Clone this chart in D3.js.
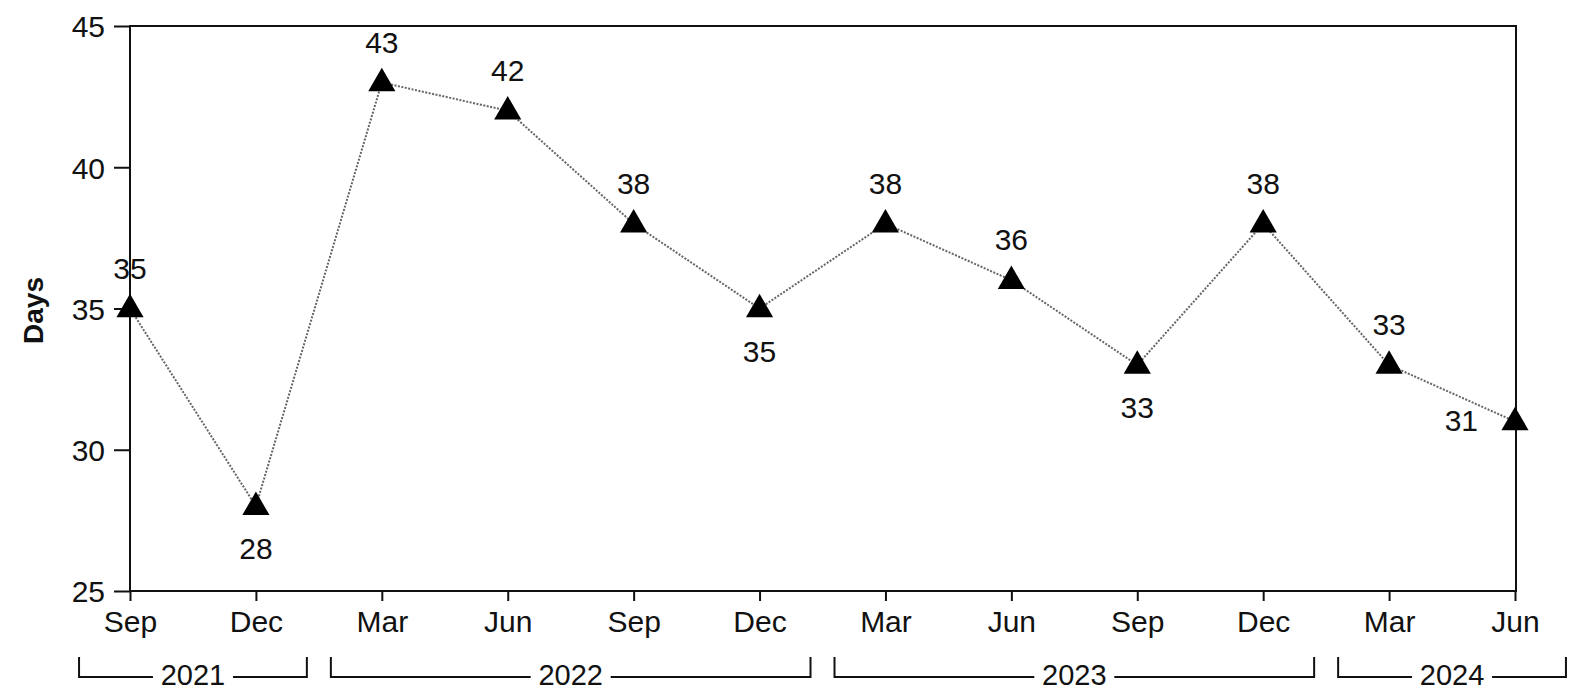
<!DOCTYPE html>
<html>
<head>
<meta charset="utf-8">
<script src="https://cdn.jsdelivr.net/npm/d3@7"></script>
<style>
  body { margin: 0; background: #fff; }
  text { font-family: "Liberation Sans", Arial, sans-serif; fill: #111; }
</style>
</head>
<body>
<div id="chart"></div>
<script>
'use strict';
(function(){

	// data
	var months = ['Sep', 'Dec', 'Mar', 'Jun', 'Sep', 'Dec', 'Mar', 'Jun', 'Sep', 'Dec', 'Mar', 'Jun'];
	var years = [2021, 2021, 2022, 2022, 2022, 2022, 2023, 2023, 2023, 2023, 2024, 2024];
	var days = [35, 28, 43, 42, 38, 35, 38, 36, 33, 38, 33, 31];
	var labelSide = ['above', 'below', 'above', 'above', 'above', 'below', 'above', 'above', 'below', 'above', 'above', 'left'];
	var yTicks = [25, 30, 35, 40, 45];
	var yTitle = 'Days';

	var width = 1571, height = 690;
	var left = 130, right = 1516, top = 26, bottom = 591;

	var svg = d3.select('#chart')
		.append('svg')
		.attr('width', width)
		.attr('height', height);

	var keys = months.map(function (m, i) { return m + ' ' + years[i]; });

	var x = d3.scalePoint()
		.domain(keys)
		.range([left, right - 1]);

	var y = d3.scaleLinear()
		.domain([25, 45])
		.range([bottom, top]);

	var step = x.step();

	// frame
	svg.append('rect')
		.attr('x', left)
		.attr('y', top)
		.attr('width', right - left)
		.attr('height', bottom - top)
		.attr('fill', 'none')
		.attr('stroke', '#111')
		.attr('stroke-width', 2);

	// y axis
	var yAxis = svg.append('g')
		.attr('transform', 'translate(' + left + ',0)')
		.call(d3.axisLeft(y).tickValues(yTicks).tickSize(16).tickPadding(9));
	yAxis.select('.domain').remove();
	yAxis.selectAll('line').attr('stroke', '#111').attr('stroke-width', 2);
	yAxis.selectAll('text')
		.attr('font-size', 30)
		.attr('font-family', '"Liberation Sans", Arial, sans-serif')
		.attr('fill', '#111')
		.attr('dy', '0.36em');

	// x axis
	var xAxis = svg.append('g')
		.attr('transform', 'translate(0,' + bottom + ')')
		.call(d3.axisBottom(x).tickSize(10).tickPadding(10)
			.tickFormat(function (d, i) { return months[i]; }));
	xAxis.select('.domain').remove();
	xAxis.selectAll('line').attr('stroke', '#111').attr('stroke-width', 2);
	xAxis.selectAll('text')
		.attr('font-size', 30)
		.attr('font-family', '"Liberation Sans", Arial, sans-serif')
		.attr('fill', '#111');

	// year brackets
	var groups = [];
	years.forEach(function (yr, i) {
		var g = groups[groups.length - 1];
		if (!g || g.year !== yr) {
			groups.push({ year: yr, first: keys[i], last: keys[i] });
		} else {
			g.last = keys[i];
		}
	});

	var bracketY = 677, bracketTop = 657, gap = 12;
	var brackets = svg.append('g').selectAll('g')
		.data(groups)
		.enter()
		.append('g');

	brackets.append('path')
		.attr('d', function (d) {
			var x0 = x(d.first) - step / 2 + gap;
			var x1 = x(d.last) + step / 2 - gap;
			return 'M' + x0 + ',' + bracketTop + 'V' + bracketY + 'H' + x1 + 'V' + bracketTop;
		})
		.attr('fill', 'none')
		.attr('stroke', '#111')
		.attr('stroke-width', 2);

	brackets.append('rect')
		.attr('x', function (d) { return (x(d.first) + x(d.last)) / 2 - 40; })
		.attr('y', bracketY - 6)
		.attr('width', 80)
		.attr('height', 12)
		.attr('fill', '#fff');

	brackets.append('text')
		.attr('x', function (d) { return (x(d.first) + x(d.last)) / 2; })
		.attr('y', bracketY + 8)
		.attr('text-anchor', 'middle')
		.attr('font-size', 29)
		.text(function (d) { return d.year; });

	// y title
	svg.append('text')
		.attr('transform', 'translate(43,' + ((top + bottom) / 2 + 2) + ') rotate(-90)')
		.attr('text-anchor', 'middle')
		.attr('font-size', 28)
		.attr('font-weight', 'bold')
		.text(yTitle);

	// line
	var line = d3.line()
		.x(function (d, i) { return x(keys[i]); })
		.y(function (d) { return y(d); });

	svg.append('path')
		.datum(days)
		.attr('d', line)
		.attr('fill', 'none')
		.attr('stroke', '#666')
		.attr('stroke-width', 2)
		.attr('stroke-dasharray', '2,1.5');

	// markers
	var tri = d3.symbol().type(d3.symbolTriangle).size(320);
	svg.selectAll('path.marker')
		.data(days)
		.enter()
		.append('path')
		.attr('class', 'marker')
		.attr('d', tri)
		.attr('transform', function (d, i) {
			return 'translate(' + x(keys[i]) + ',' + (y(d) + 1) + ')';
		})
		.attr('fill', '#000');

	// value labels
	svg.selectAll('text.value')
		.data(days)
		.enter()
		.append('text')
		.attr('class', 'value')
		.attr('x', function (d, i) {
			return labelSide[i] === 'left' ? x(keys[i]) - 37 : x(keys[i]);
		})
		.attr('y', function (d, i) {
			if (labelSide[i] === 'above') return y(d) - 30;
			if (labelSide[i] === 'below') return y(d) + 53;
			return y(d) + 9;
		})
		.attr('text-anchor', function (d, i) { return labelSide[i] === 'left' ? 'end' : 'middle'; })
		.attr('font-size', 30)
		.text(function (d) { return d; });

}());
</script>
</body>
</html>
